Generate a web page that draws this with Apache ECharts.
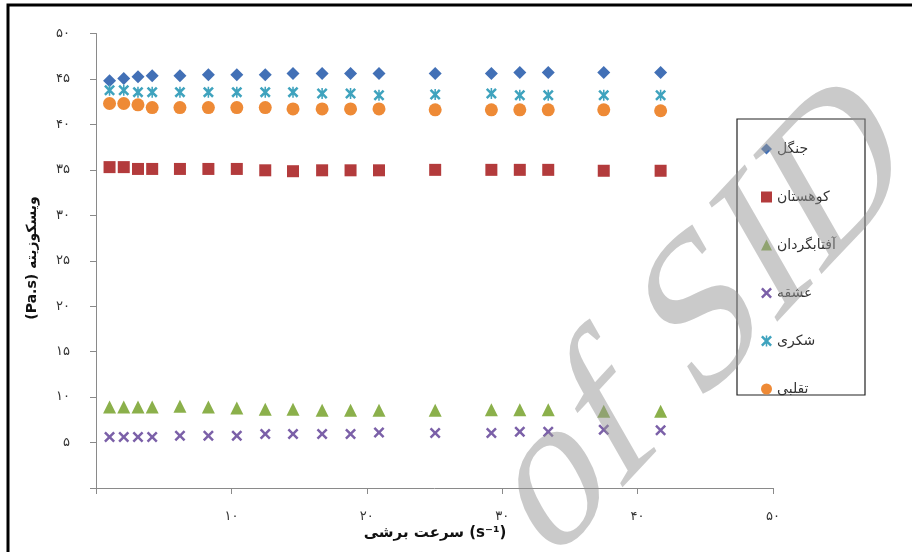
<!DOCTYPE html>
<html><head><meta charset="utf-8">
<script src="https://cdn.jsdelivr.net/npm/echarts@6/dist/echarts.min.js"></script>
<style>html,body{margin:0;padding:0;background:#fff;}#c{width:912px;height:552px;}</style>
</head><body><div id="c"></div>
<script>
// ---- data ----
const shearRate = [1.0, 2.05, 3.1, 4.15, 6.2, 8.3, 10.4, 12.5, 14.55, 16.7, 18.8, 20.9, 25.05, 29.2, 31.3, 33.4, 37.5, 41.7];
const jangal     = [44.8, 45.05, 45.25, 45.35, 45.35, 45.45, 45.45, 45.45, 45.6, 45.6, 45.6, 45.6, 45.6, 45.6, 45.7, 45.7, 45.7, 45.7];
const kuhestan   = [35.3, 35.3, 35.1, 35.1, 35.1, 35.1, 35.1, 34.95, 34.85, 34.95, 34.95, 34.95, 35.0, 35.0, 35.0, 35.0, 34.9, 34.9];
const aftabgardan= [8.9, 8.9, 8.9, 8.9, 9.0, 8.9, 8.8, 8.65, 8.65, 8.55, 8.55, 8.55, 8.55, 8.6, 8.6, 8.6, 8.45, 8.45];
const eshghe     = [5.6, 5.6, 5.6, 5.6, 5.75, 5.75, 5.75, 5.95, 5.95, 5.95, 5.95, 6.1, 6.05, 6.05, 6.2, 6.2, 6.4, 6.35];
const shekari    = [43.75, 43.75, 43.55, 43.55, 43.55, 43.55, 43.55, 43.55, 43.55, 43.4, 43.4, 43.2, 43.3, 43.4, 43.2, 43.2, 43.2, 43.2];
const taghalobi  = [42.3, 42.3, 42.15, 41.85, 41.85, 41.85, 41.85, 41.85, 41.7, 41.7, 41.7, 41.7, 41.6, 41.6, 41.6, 41.6, 41.6, 41.5];
const seriesNames = ['جنگل', 'کوهستان', 'آفتابگردان', 'عشقه', 'شکری', 'تقلبی'];
const xTicks = [0, 10, 20, 30, 40, 50];
const yTicks = [0, 5, 10, 15, 20, 25, 30, 35, 40, 45, 50];
const yTitle = '(Pa.s) ویسکوزیته';
const xTitle = 'سرعت برشی (s⁻¹)';
const watermark = 'of SID';

const fa = d => String(d).replace(/[0-9]/g, c => '۰۱۲۳۴۵۶۷۸۹'[+c]);
const lbl = v => (v === 0 ? '' : fa(v));
const pair = ys => shearRate.map((x, i) => [x, ys[i]]);

const crossPath = 'path://M0,1.6L1.6,0L5,3.4L8.4,0L10,1.6L6.6,5L10,8.4L8.4,10L5,6.6L1.6,10L0,8.4L3.4,5Z';
const starPath = 'path://M0,1.6L1.6,0L5,3.4L8.4,0L10,1.6L6.6,5L10,8.4L8.4,10L5,6.6L1.6,10L0,8.4L3.4,5Z M4.3,0L5.7,0L5.7,10L4.3,10Z';

const colors = ['#4270B6', '#B33B3C', '#8BB04B', '#7B60A8', '#3FA3BE', '#EE8A36'];
const symbols = ['diamond', 'rect', 'triangle', crossPath, starPath, 'circle'];
const sizes = [13, 12, 13, 11, 11, 13];
const datas = [jangal, kuhestan, aftabgardan, eshghe, shekari, taghalobi];

const chart = echarts.init(document.getElementById('c'), null, {renderer: 'canvas'});
const FONT = 'DejaVu Sans';
chart.setOption({
  animation: false,
  backgroundColor: '#ffffff',
  grid: {left: 96, right: 139, top: 33.5, bottom: 64, containLabel: false},
  xAxis: {
    type: 'value', min: 0, max: 50, interval: 10,
    axisLine: {show: true, onZero: false, lineStyle: {color: '#8a8a8a', width: 1}},
    axisTick: {show: true, length: 6, inside: false, lineStyle: {color: '#8a8a8a'}},
    splitLine: {show: false},
    axisLabel: {margin: 22, fontSize: 13, color: '#333', fontFamily: FONT,
      formatter: v => xTicks.includes(v) ? lbl(v) : ''}
  },
  yAxis: {
    type: 'value', min: 0, max: 50, interval: 5,
    axisLine: {show: true, onZero: false, lineStyle: {color: '#8a8a8a', width: 1}},
    axisTick: {show: true, length: 6, inside: false, lineStyle: {color: '#8a8a8a'}},
    splitLine: {show: false},
    axisLabel: {margin: 26, fontSize: 13, color: '#333', fontFamily: FONT,
      formatter: v => yTicks.includes(v) ? lbl(v) : ''}
  },
  legend: {
    orient: 'vertical', left: 756, top: 137, itemGap: 34,
    itemWidth: 11, itemHeight: 11,
    textStyle: {fontSize: 14, color: '#333', fontFamily: FONT},
    data: seriesNames
  },
  series: datas.map((d, i) => ({
    name: seriesNames[i], type: 'scatter', data: pair(d),
    symbol: symbols[i], symbolSize: sizes[i],
    itemStyle: {color: colors[i], opacity: 1},
    z: 3
  })),
  graphic: [
    {type: 'rect', shape: {x: 8, y: 5, width: 1000, height: 700}, style: {fill: 'none', stroke: '#000', lineWidth: 3}, silent: true, z: 1},
    {type: 'rect', shape: {x: 737, y: 119, width: 128, height: 276}, style: {fill: 'none', stroke: '#222', lineWidth: 1.2}, silent: true, z: 2},
    {type: 'text', x: 32, y: 258, rotation: Math.PI / 2,
      style: {text: yTitle, font: 'bold 14px "DejaVu Sans"', fill: '#111', textAlign: 'center', textVerticalAlign: 'middle'}, z: 5},
    {type: 'text', x: 435, y: 533,
      style: {text: xTitle, font: 'bold 15px "DejaVu Sans"', fill: '#111', textAlign: 'center', textVerticalAlign: 'middle'}, z: 5}
  ]
});

// watermark (slanted serif text), added through the library's own graphic Text element
const wm = new echarts.graphic.Text({
  x: 705, y: 322, rotation: 0.82, skewX: -0.3,
  style: {text: watermark, font: '200px "Liberation Serif"', fill: 'rgba(150,150,150,0.5)', align: 'center', verticalAlign: 'middle'},
  silent: true, z: 100, zlevel: 0
});
chart.getZr().add(wm);
</script></body></html>
